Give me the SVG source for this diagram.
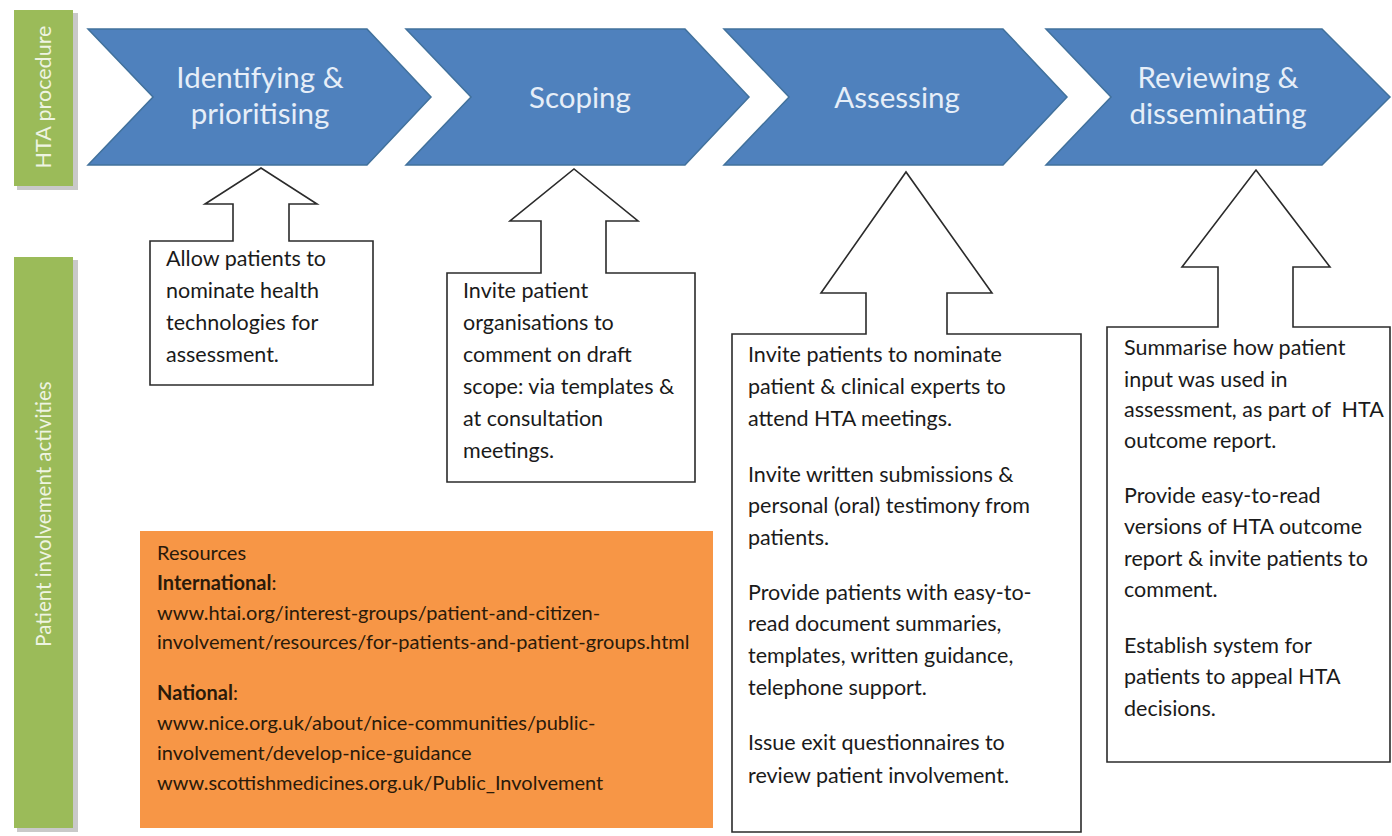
<svg xmlns="http://www.w3.org/2000/svg" width="1392" height="836" viewBox="0 0 1392 836">
<style>
.bg{fill:#ffffff}
.side{fill:#9bbb59}
.shadow{fill:#c9c9c9}
.sidelbl{font-family:Lato,"Open Sans",sans-serif;fill:#eef4e2;text-anchor:middle;dominant-baseline:central}
.chev{fill:#4f81bd;stroke:#41719c;stroke-width:1.5}
.chevlbl{font-family:Lato,"Open Sans",sans-serif;font-size:29.5px;fill:#e6eef8;text-anchor:middle}
.call{fill:#ffffff;stroke:#2b2b2b;stroke-width:1.6}
.txt{font-family:Lato,"Open Sans",sans-serif;font-size:21.5px;fill:#1a1a1a}
.res{fill:#f79646}
.rtxt{font-family:Lato,"Open Sans",sans-serif;font-size:20px;fill:#2a1a0a}
.b{font-weight:bold}
</style>
<rect class="bg" x="0" y="0" width="1392" height="836"/>

<g id="lane-hta">
<rect class="shadow" x="17" y="13" width="61" height="177"/>
<rect class="side" x="14" y="10" width="59" height="176"/>
<text class="sidelbl" font-size="21.5" transform="translate(43,97) rotate(-90)">HTA procedure</text>
</g>
<g id="lane-patient">
<rect class="shadow" x="17" y="260" width="61" height="572"/>
<rect class="side" x="14" y="257" width="59" height="571"/>
<text class="sidelbl" font-size="20.5" transform="translate(43,514) rotate(-90)">Patient involvement activities</text>
</g>

<g id="step-identifying">
<polygon class="chev" points="88,29 367,29 431,97 367,165 88,165 153,97"/>
<text class="chevlbl" x="260" y="88">Identifying &amp;</text>
<text class="chevlbl" x="260" y="124">prioritising</text>
</g>
<g id="step-scoping">
<polygon class="chev" points="406,29 685,29 749,97 685,165 406,165 471,97"/>
<text class="chevlbl" x="580" y="108">Scoping</text>
</g>
<g id="step-assessing">
<polygon class="chev" points="724,29 1003,29 1067,97 1003,165 724,165 789,97"/>
<text class="chevlbl" x="897" y="108">Assessing</text>
</g>
<g id="step-reviewing">
<polygon class="chev" points="1046,29 1322,29 1390,97 1322,165 1046,165 1111,97"/>
<text class="chevlbl" x="1218" y="88">Reviewing &amp;</text>
<text class="chevlbl" x="1218" y="124">disseminating</text>
</g>

<g id="connectors">
<path class="call" d="M150,241 H233 V204 H205 L261,168 L317,204 H289 V241 H373 V385 H150 Z"/>
<path class="call" d="M447,273 H541 V221 H510 L574,169 L638,221 H606 V273 H695 V482 H447 Z"/>
<path class="call" d="M732,334 H866 V293 H821 L906,172 L992,293 H947 V334 H1081 V832 H732 Z"/>
<path class="call" d="M1107,327 H1218 V267 H1182 L1256,170 L1330,267 H1293 V327 H1390 V762 H1107 Z"/>
</g>

<g id="activity-identifying">
<text class="txt" x="166" y="266">Allow patients to</text>
<text class="txt" x="166" y="298">nominate health</text>
<text class="txt" x="166" y="330">technologies for</text>
<text class="txt" x="166" y="362">assessment.</text>
</g>
<g id="activity-scoping">
<text class="txt" x="463" y="298">Invite patient</text>
<text class="txt" x="463" y="330">organisations to</text>
<text class="txt" x="463" y="362">comment on draft</text>
<text class="txt" x="463" y="394">scope: via templates &amp;</text>
<text class="txt" x="463" y="426">at consultation</text>
<text class="txt" x="463" y="458">meetings.</text>
</g>
<g id="activity-assessing">
<text class="txt" x="748" y="362">Invite patients to nominate</text>
<text class="txt" x="748" y="394">patient &amp; clinical experts to</text>
<text class="txt" x="748" y="426">attend HTA meetings.</text>
<text class="txt" x="748" y="482">Invite written submissions &amp;</text>
<text class="txt" x="748" y="513">personal (oral) testimony from</text>
<text class="txt" x="748" y="545">patients.</text>
<text class="txt" x="748" y="600">Provide patients with easy-to-</text>
<text class="txt" x="748" y="631">read document summaries,</text>
<text class="txt" x="748" y="663">templates, written guidance,</text>
<text class="txt" x="748" y="695">telephone support.</text>
<text class="txt" x="748" y="750">Issue exit questionnaires to</text>
<text class="txt" x="748" y="783">review patient involvement.</text>
</g>
<g id="activity-reviewing">
<text class="txt" x="1124" y="355">Summarise how patient</text>
<text class="txt" x="1124" y="387">input was used in</text>
<text class="txt" x="1124" y="417">assessment, as part of&#160; HTA</text>
<text class="txt" x="1124" y="448">outcome report.</text>
<text class="txt" x="1124" y="503">Provide easy-to-read</text>
<text class="txt" x="1124" y="534">versions of HTA outcome</text>
<text class="txt" x="1124" y="566">report &amp; invite patients to</text>
<text class="txt" x="1124" y="597">comment.</text>
<text class="txt" x="1124" y="653">Establish system for</text>
<text class="txt" x="1124" y="684">patients to appeal HTA</text>
<text class="txt" x="1124" y="716">decisions.</text>
</g>

<g id="resources">
<rect class="res" x="140" y="531" width="573" height="297"/>
<text class="rtxt" x="157" y="560">Resources</text>
<text class="rtxt" x="157" y="590"><tspan class="b">International</tspan>:</text>
<text class="rtxt" x="157" y="620">www.htai.org/interest-groups/patient-and-citizen-</text>
<text class="rtxt" x="157" y="649">involvement/resources/for-patients-and-patient-groups.html</text>
<text class="rtxt" x="157" y="700"><tspan class="b">National</tspan>:</text>
<text class="rtxt" x="157" y="730">www.nice.org.uk/about/nice-communities/public-</text>
<text class="rtxt" x="157" y="760">involvement/develop-nice-guidance</text>
<text class="rtxt" x="157" y="790">www.scottishmedicines.org.uk/Public_Involvement</text>
</g>
</svg>
